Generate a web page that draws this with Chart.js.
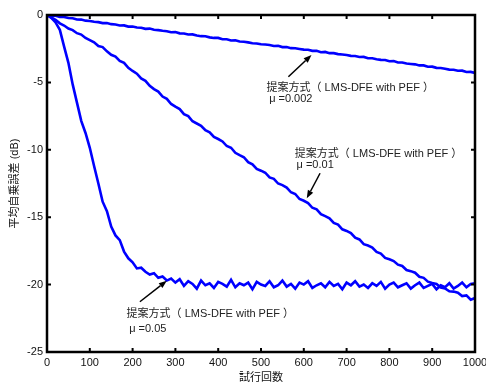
<!DOCTYPE html>
<html>
<head>
<meta charset="utf-8">
<script src="https://cdn.jsdelivr.net/npm/chart.js@4.4.1/dist/chart.umd.min.js"></script>
<style>
html,body{margin:0;padding:0;background:#fff;}
#wrap{width:486px;height:385px;}
</style>
</head>
<body>
<div id="wrap"><canvas id="c" width="486" height="385"></canvas></div>
<script>
// Iteration numbers (x)
const iterations = [0,10,20,30,40,50,60,70,80,90,100,110,120,130,140,150,160,170,180,190,200,210,220,230,240,250,260,270,280,290,300,310,320,330,340,350,360,370,380,390,400,410,420,430,440,450,460,470,480,490,500,510,520,530,540,550,560,570,580,590,600,610,620,630,640,650,660,670,680,690,700,710,720,730,740,750,760,770,780,790,800,810,820,830,840,850,860,870,880,890,900,910,920,930,940,950,960,970,980,990,1000];

// mu = 0.002
const mse_mu0002 = [0.00,-0.05,-0.06,-0.14,-0.15,-0.22,-0.24,-0.33,-0.34,-0.42,-0.44,-0.50,-0.53,-0.60,-0.60,-0.68,-0.70,-0.78,-0.77,-0.86,-0.86,-0.93,-0.95,-1.03,-1.01,-1.10,-1.12,-1.17,-1.20,-1.28,-1.27,-1.36,-1.37,-1.45,-1.44,-1.52,-1.57,-1.58,-1.66,-1.70,-1.70,-1.80,-1.80,-1.89,-1.88,-1.97,-1.99,-2.03,-2.09,-2.11,-2.17,-2.19,-2.22,-2.30,-2.29,-2.38,-2.38,-2.46,-2.47,-2.52,-2.57,-2.58,-2.66,-2.66,-2.76,-2.74,-2.83,-2.83,-2.90,-2.93,-2.97,-3.03,-3.04,-3.12,-3.11,-3.21,-3.21,-3.28,-3.33,-3.34,-3.43,-3.42,-3.52,-3.52,-3.60,-3.63,-3.66,-3.74,-3.74,-3.84,-3.83,-3.92,-3.93,-3.99,-4.05,-4.06,-4.14,-4.13,-4.23,-4.22,-4.30];

// mu = 0.01
const mse_mu001 = [0.00,-0.18,-0.35,-0.62,-0.78,-1.00,-1.12,-1.35,-1.45,-1.70,-1.86,-2.02,-2.30,-2.38,-2.70,-2.95,-3.08,-3.40,-3.55,-3.92,-4.15,-4.35,-4.70,-4.88,-5.25,-5.50,-5.68,-6.05,-6.22,-6.60,-6.80,-6.98,-7.35,-7.50,-7.88,-8.05,-8.22,-8.55,-8.70,-9.05,-9.20,-9.38,-9.72,-9.85,-10.22,-10.40,-10.55,-10.92,-11.08,-11.42,-11.55,-11.70,-12.05,-12.15,-12.50,-12.62,-12.80,-13.15,-13.28,-13.65,-13.78,-13.95,-14.30,-14.42,-14.78,-14.92,-15.08,-15.42,-15.55,-15.90,-16.02,-16.18,-16.52,-16.65,-17.00,-17.10,-17.25,-17.58,-17.70,-18.02,-18.12,-18.25,-18.52,-18.62,-18.92,-19.00,-19.12,-19.42,-19.50,-19.78,-19.88,-19.95,-20.22,-20.28,-20.50,-20.52,-20.60,-20.85,-20.80,-21.12,-21.00];

// mu = 0.05
const mse_mu005 = [0.00,-0.22,-0.55,-1.10,-2.35,-3.55,-5.15,-6.50,-7.85,-8.75,-9.85,-11.20,-12.50,-13.85,-14.55,-15.70,-16.35,-16.70,-17.55,-18.05,-18.35,-18.80,-18.75,-19.05,-19.25,-19.15,-19.50,-19.40,-19.70,-19.55,
  -19.85,-19.60,-20.10,-19.75,-19.95,-20.30,-19.70,-20.05,-19.90,-20.25,
  -19.80,-19.95,-20.15,-19.65,-20.20,-19.90,-20.05,-19.85,-20.35,-19.80,
  -20.00,-20.10,-19.75,-20.20,-20.05,-19.70,-20.15,-19.95,-20.30,-19.85,
  -20.00,-19.75,-20.25,-20.05,-19.90,-20.20,-19.80,-20.10,-19.95,-20.35,
  -19.85,-20.05,-19.75,-20.15,-20.00,-20.25,-19.90,-20.10,-19.80,-20.30,
  -20.00,-19.85,-20.20,-20.05,-19.90,-20.30,-20.05,-19.85,-20.25,-20.10,
  -19.95,-20.35,-20.05,-20.20,-19.90,-20.30,-20.10,-19.85,-20.20,-19.95,
  -19.90];

const xTickLabels = [0,100,200,300,400,500,600,700,800,900,1000];
const yTickLabels = [0,-5,-10,-15,-20,-25];

const seriesLabels = ['μ =0.002','μ =0.01','μ =0.05'];
const seriesData = [mse_mu0002, mse_mu001, mse_mu005];

const annotationText = '提案方式（ LMS-DFE with PEF ）';
// annotation placements in data coordinates
const notes = [
  {mu:'μ =0.002', tx:513, ty:-5.39, mx:519, my:-6.23, ax:564, ay:-4.58, hx:618, hy:-2.97},
  {mu:'μ =0.01',  tx:579, ty:-10.33, mx:583, my:-11.13, ax:638, ay:-11.74, hx:607, hy:-13.6},
  {mu:'μ =0.05',  tx:186, ty:-22.18, mx:192, my:-23.29, ax:217, ay:-21.27, hx:280, hy:-19.71}
];

const FONT = "Arial, 'Liberation Sans', 'Noto Sans CJK JP', sans-serif";

const framePlugin = {
  id: 'frame',
  afterDatasetsDraw(chart) {
    const {ctx, chartArea: a, scales: {x, y}} = chart;
    ctx.save();
    ctx.strokeStyle = '#000';
    ctx.lineWidth = 2.5;
    ctx.strokeRect(a.left, a.top, a.right - a.left, a.bottom - a.top);
    const L = 4;
    ctx.lineWidth = 2;
    ctx.beginPath();
    xTickLabels.forEach(v => {
      const px = x.getPixelForValue(v);
      ctx.moveTo(px, a.bottom); ctx.lineTo(px, a.bottom - L);
      ctx.moveTo(px, a.top); ctx.lineTo(px, a.top + L);
    });
    yTickLabels.forEach(v => {
      const py = y.getPixelForValue(v);
      ctx.moveTo(a.left, py); ctx.lineTo(a.left + L, py);
      ctx.moveTo(a.right, py); ctx.lineTo(a.right - L, py);
    });
    ctx.stroke();
    ctx.restore();
  },
  afterDraw(chart) {
    const {ctx, scales: {x, y}} = chart;
    ctx.save();
    ctx.fillStyle = '#222';
    ctx.strokeStyle = '#000';
    ctx.font = '11px ' + FONT;
    ctx.textAlign = 'left';
    ctx.textBaseline = 'middle';
    notes.forEach(n => {
      ctx.fillText(annotationText, x.getPixelForValue(n.tx), y.getPixelForValue(n.ty));
      ctx.fillText(n.mu, x.getPixelForValue(n.mx), y.getPixelForValue(n.my));
      const x0 = x.getPixelForValue(n.ax), y0 = y.getPixelForValue(n.ay);
      const x1 = x.getPixelForValue(n.hx), y1 = y.getPixelForValue(n.hy);
      const ang = Math.atan2(y1 - y0, x1 - x0);
      const hl = 8, hw = 3;
      const bx = x1 - hl * Math.cos(ang), by = y1 - hl * Math.sin(ang);
      ctx.lineWidth = 1.5;
      ctx.beginPath(); ctx.moveTo(x0, y0); ctx.lineTo(bx, by); ctx.stroke();
      ctx.beginPath();
      ctx.moveTo(x1, y1);
      ctx.lineTo(bx + hw * Math.sin(ang), by - hw * Math.cos(ang));
      ctx.lineTo(bx - hw * Math.sin(ang), by + hw * Math.cos(ang));
      ctx.closePath();
      ctx.fillStyle = '#000';
      ctx.fill();
      ctx.fillStyle = '#222';
    });
    ctx.restore();
  }
};

const datasets = seriesData.map((vals, i) => ({
  label: seriesLabels[i],
  data: iterations.map((it, k) => ({x: it, y: vals[k]})),
  borderColor: '#0000ff',
  backgroundColor: '#0000ff',
  borderWidth: 2.6,
  pointRadius: 0,
  tension: 0,
  fill: false
}));

new Chart(document.getElementById('c'), {
  type: 'line',
  data: {datasets},
  options: {
    responsive: false,
    animation: false,
    devicePixelRatio: 1,
    layout: {padding: {top: 15, right: 11, bottom: 0, left: 0}},
    plugins: {legend: {display: false}, tooltip: {enabled: false}},
    scales: {
      x: {
        type: 'linear', min: 0, max: 1000,
        afterBuildTicks(s) { s.ticks = xTickLabels.map(v => ({value: v})); },
        ticks: {padding: 4, color: '#111', font: {family: FONT, size: 11}, maxRotation: 0, autoSkip: false,
                callback: v => String(v)},
        grid: {display: false, drawTicks: false},
        border: {display: false},
        title: {display: true, text: '試行回数', color: '#111', font: {family: FONT, size: 11}, padding: {top: 0, bottom: 0}},
        afterFit(s) { s.height = 33; s.paddingLeft = 0; s.paddingRight = 0; }
      },
      y: {
        type: 'linear', min: -25, max: 0,
        afterBuildTicks(s) { s.ticks = yTickLabels.map(v => ({value: v})); },
        ticks: {padding: 4, color: '#111', font: {family: FONT, size: 11}, callback: v => String(v)},
        grid: {display: false, drawTicks: false},
        border: {display: false},
        title: {display: true, text: '平均自乗誤差 (dB)', color: '#111', font: {family: FONT, size: 11}, padding: {top: 8, bottom: 0}},
        afterFit(s) { s.width = 47; s.paddingTop = 0; s.paddingBottom = 0; }
      }
    }
  },
  plugins: [framePlugin]
});
</script>
</body>
</html>
